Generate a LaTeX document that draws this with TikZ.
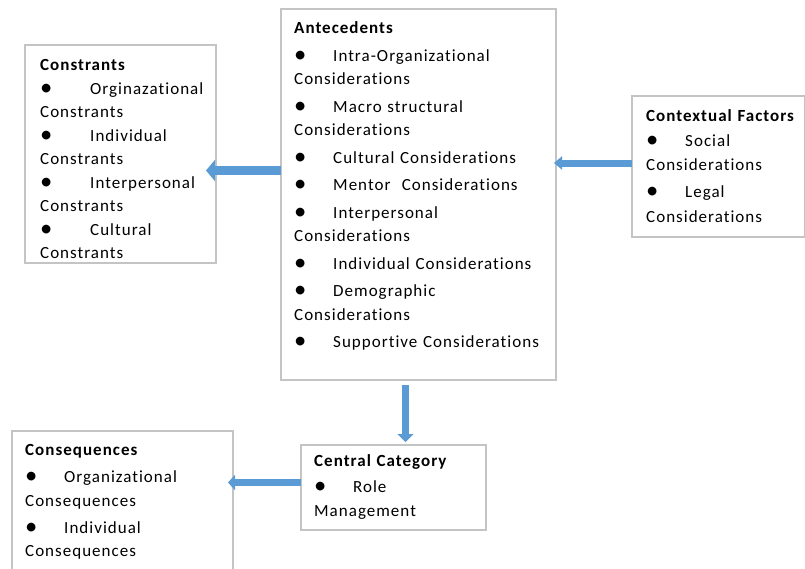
\documentclass[tikz,border=0pt]{standalone}
\usepackage{fontspec}
\setmainfont{Carlito}[LetterSpace=6,Ligatures=NoCommon]
\usetikzlibrary{arrows.meta,calc}
\definecolor{boxgray}{HTML}{C4C4C4}
\definecolor{arrblue}{HTML}{5B9BD5}
\newcommand{\bl}[1][39pt]{\makebox[#1][l]{\raisebox{-0.06em}{\scalebox{1.45}{\textbullet}}}}
\begin{document}
\begin{tikzpicture}[x=1pt,y=-1pt,
  box/.style={draw=boxgray, line width=1.1pt, fill=white, inner sep=0pt, outer sep=0pt},
  txt/.style={anchor=base west, inner sep=0pt, align=left, text width=260pt,
    font=\fontsize{17}{23.5}\selectfont},
  barrow/.style={line width=8pt, draw=arrblue, -{Triangle[width=18pt,length=9pt]}}]
\useasboundingbox (0,0) rectangle (805,568);
\fill[white] (0,0) rectangle (805,568);
% boxes
\node[box, minimum width=191pt, minimum height=218pt] (con) at (120.5,154) {};
\node[box, minimum width=275pt, minimum height=371pt] (ant) at (418.5,194.5) {};
\node[box, minimum width=173pt, minimum height=141pt] (ctx) at (718.5,166.5) {};
\node[box, minimum width=185pt, minimum height=85pt] (cen) at (393.5,487.5) {};
\node[box, minimum width=221pt, minimum height=144pt] (seq) at (122.5,503) {};
% texts
\node[txt] (conT) at (40,70.5) {\textbf{Constrants}\\
\bl[50pt]Orginazational\\
Constrants\\
\bl[50pt]Individual\\
Constrants\\
\bl[50pt]Interpersonal\\
Constrants\\
\bl[50pt]Cultural\\
Constrants};
\node[txt] (antT) at (294,33.5) {\textbf{Antecedents}\\[4pt]
\bl Intra-Organizational\\
Considerations\\[4pt]
\bl Macro structural\\
Considerations\\[4pt]
\bl Cultural Considerations\\[4pt]
\bl Mentor\ \ Considerations\\[4pt]
\bl Interpersonal\\
Considerations\\[4pt]
\bl Individual Considerations\\[4pt]
\bl Demographic\\
Considerations\\[4pt]
\bl Supportive Considerations};
\node[txt, font=\fontsize{17}{24.5}\selectfont] (ctxT) at (646,121.5) {\textbf{Contextual Factors}\\
\bl Social\\
Considerations\\[2.5pt]
\bl Legal\\
Considerations};
\node[txt] (cenT) at (314,466.5) {\textbf{Central Category}\\[2.5pt]
\bl Role\\
Management};
\node[txt] (seqT) at (25,455.5) {\textbf{Consequences}\\[3.5pt]
\bl Organizational\\
Consequences\\[3.5pt]
\bl Individual\\
Consequences};
% arrows
\coordinate (a1) at ([yshift=24pt]ant.west);
\coordinate (a2) at ([yshift=3.5pt]ctx.west);
\coordinate (a3) at ([xshift=-13pt]ant.south);
\coordinate (a4) at ([yshift=5pt]cen.west);
\draw[barrow, line width=9pt, -{Triangle[width=21pt,length=9pt]}, shorten >=-10pt] (a1) -- (con.east |- a1);
\draw[barrow, line width=7pt, -{Triangle[width=13pt,length=8pt]}, shorten >=-2pt] (a2) -- (ant.east |- a2);
\draw[barrow, line width=7pt, -{Triangle[width=16pt,length=8pt]}, shorten <=5pt, shorten >=3pt] (a3) -- (a3 |- cen.north);
\draw[barrow, line width=7pt, -{Triangle[width=15pt,length=7pt]}, shorten >=-5pt] (a4) -- (seq.east |- a4);
\end{tikzpicture}
\end{document}
